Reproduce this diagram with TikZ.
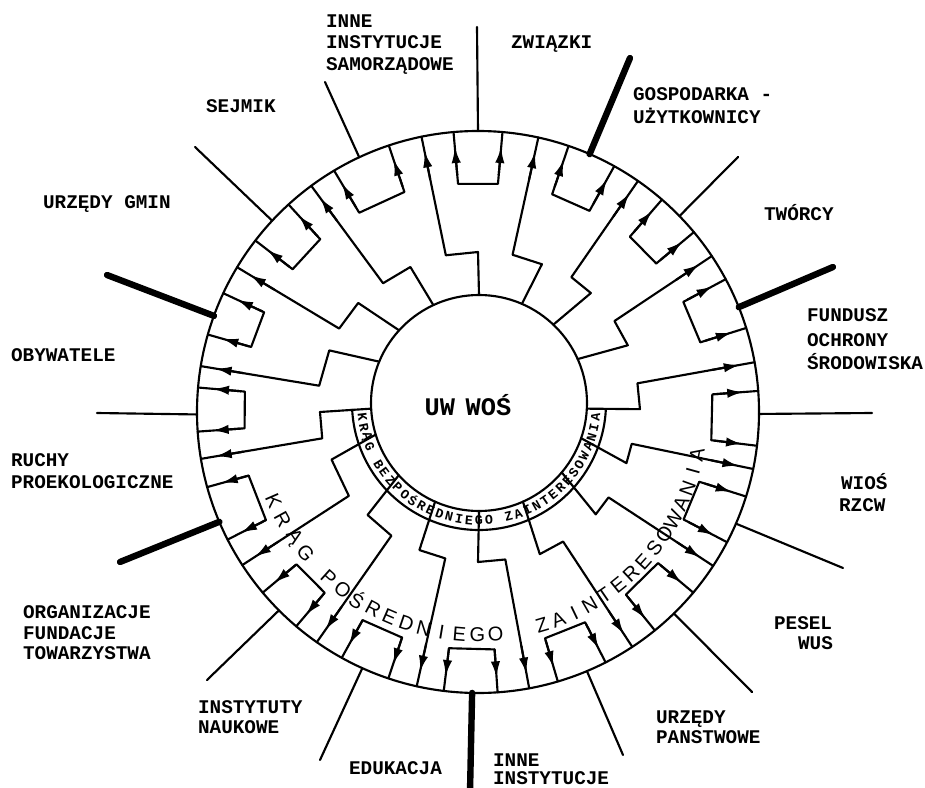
\documentclass[tikz,border=0pt]{standalone}
\usepackage{fontspec}
\setmainfont{Liberation Mono}
\newfontfamily\handfont{Liberation Sans}
\usetikzlibrary{calc,arrows.meta}
\begin{document}
\begin{tikzpicture}[x=0.75pt,y=0.75pt,line width=1.6pt,line join=round,line cap=round,
 lab/.style={anchor=base west,inner sep=0pt,font=\fontsize{14.5}{16}\selectfont\bfseries},
 tipline/.style={-{Latex[length=12pt,width=7pt]}},
 bandtxt/.style={inner sep=0pt,font=\fontsize{10}{10}\selectfont\bfseries},
 hand/.style={inner sep=0pt,font=\handfont\fontsize{15}{15}\selectfont}]
\fill[white] (0,0) rectangle (925,-788);
\useasboundingbox (0,0) rectangle (925,-788);
\coordinate (oc) at (478,-412);
\coordinate (ic) at (479,-403);
\node[circle,draw,minimum size=421.5pt,inner sep=0pt] (outer) at (oc) {};
\node[circle,draw,minimum size=162pt,inner sep=0pt] (inner) at (ic) {};
\node[font=\fontsize{19}{20}\selectfont\bfseries,inner sep=0pt] (uw) at (468,-405) {UW\hspace{8pt}WOŚ};

% spokes
\foreach \a/\x/\y/\w [count=\i] in {90/477/27/1.6, 66.6/630/58/4.8, 44.2/738/157/1.6, 21.9/833/267/4.8, -0.4/872/413/1.6, -23.4/843/568/1.6, -45.8/752/692/1.6, -67.2/623/755/1.6, -91.2/470/792/4.8, 245.7/320/760/1.6, 224.9/207/680/1.6, 203/120/562/4.8, 180.5/97/413/1.6, 160/107/275/4.8, 137.1/195/147/1.6, 115/325/82/1.6}
  \draw[line width=\w pt] ($(oc)+(\a:281)$) coordinate (s\i) -- (\x,-\y) coordinate (e\i);

% brackets
\foreach \a/\b/\r in {95/85/229, 108.5/120.8/232, 132.4/142.4/234, 155/164/236, 175/184/234, 195.5/207/238, 220/229.7/237, 241/251.4/238, 263/274/238, 286.5/297/236, 309/320/235, 332.4/342.5/232, 353.1/364.3/235, 17.4/28.2/233, 39.8/49.1/232, 61/71.2/230} {
  \draw ($(oc)+(\a:281)$) -- ($(oc)+(\a:\r)$) -- ($(oc)+(\b:\r)$) -- ($(oc)+(\b:281)$);
  \draw[tipline] ($(oc)+(\a:238)$) -- ($(oc)+(\a:266)$);
  \draw[tipline] ($(oc)+(\b:238)$) -- ($(oc)+(\b:266)$);
}

% stepped lines to the centre
\foreach \a/\r/\b/\c in {101.6/160/90/90, 126.4/160/115/115, 149/162/137.7/137.7, 170.6/161/157.5/157.5, 189.6/158/180/183, 213/154/198/197, 235/151/223/222, 257.4/150/247/246, 280.5/150/270/270, 303.3/155/293.5/294, 326.8/156/319/320, 348.3/157/341/341, 10.2/162/1/357, 33.7/164/24/24, 55.3/164/46.5/46.5, 77.6/161/66.6/66.6} {
  \draw ($(oc)+(\a:281)$) -- ($(oc)+(\a:\r)$) -- ($(oc)+(\b:\r)$) -- ($(ic)+(\c:108)$);
  \draw[tipline] ($(oc)+(\a:238)$) -- ($(oc)+(\a:266)$);
}

% inner band
\draw ($(ic)+(183:127)$) arc[start angle=183,end angle=357,radius=127];
\foreach \ch [count=\i from 0] in {K,R,Ą,G,{},B,E,Z,P,O,Ś,R,E,D,N,I,E,G,O,{},Z,A,I,N,T,E,R,E,S,O,W,A,N,I,A} {
  \pgfmathsetmacro\ang{187+4.88*\i}
  \pgfmathsetmacro\rot{\ang+90}
  \node[bandtxt,rotate=\rot] (b\i) at ($(ic)+(\ang:117.5)$) {\ch};
}

% large hand lettering
\foreach \ch [count=\i from 0] in {K,R,Ą,G} {
  \pgfmathsetmacro\ang{203.5+5.3*\i}
  \pgfmathsetmacro\rot{\ang+90}
  \node[hand,rotate=\rot] (k\i) at ($(oc)+(\ang:223)$) {\ch};
}
\foreach \ch [count=\i from 0] in {P,O,Ś,R,E,D,N,I,E,G,O} {
  \pgfmathsetmacro\ang{228+4.65*\i}
  \pgfmathsetmacro\rot{\ang+90}
  \node[hand,rotate=\rot] (p\i) at ($(oc)+(\ang:223)$) {\ch};
}
\foreach \ch [count=\i from 0] in {Z,A,I,N,T,E,R,E,S,O,W,A,N,I,A} {
  \pgfmathsetmacro\ang{286.7+4.45*\i}
  \pgfmathsetmacro\rot{\ang+90}
  \node[hand,rotate=\rot] (z\i) at ($(oc)+(\ang:223)$) {\ch};
}

% labels
\node[lab] (t1) at (325,-28) {INNE};
\node[lab] (t2) at (325,-49) {INSTYTUCJE};
\node[lab] (t3) at (325,-71) {SAMORZĄDOWE};
\node[lab] (t4) at (510,-49) {ZWIĄZKI};
\node[lab] (t5) at (205,-113) {SEJMIK};
\node[lab] (t6) at (632,-101) {GOSPODARKA -};
\node[lab] (t7) at (632,-124) {UŻYTKOWNICY};
\node[lab] (t8) at (42,-209) {URZĘDY GMIN};
\node[lab] (t9) at (763,-221) {TWÓRCY};
\node[lab] (t10) at (806,-321) {FUNDUSZ};
\node[lab] (t11) at (806,-346) {OCHRONY};
\node[lab] (t12) at (806,-369) {ŚRODOWISKA};
\node[lab] (t13) at (10,-361) {OBYWATELE};
\node[lab] (t14) at (10,-466) {RUCHY};
\node[lab] (t15) at (10,-488) {PROEKOLOGICZNE};
\node[lab] (t16) at (840,-489) {WIOŚ};
\node[lab] (t17) at (838,-511) {RZCW};
\node[lab] (t18) at (22,-618) {ORGANIZACJE};
\node[lab] (t19) at (22,-639) {FUNDACJE};
\node[lab] (t20) at (22,-659) {TOWARZYSTWA};
\node[lab] (t21) at (773,-629) {PESEL};
\node[lab] (t22) at (797,-649) {WUS};
\node[lab] (t23) at (197,-713) {INSTYTUTY};
\node[lab] (t24) at (197,-733) {NAUKOWE};
\node[lab] (t25) at (655,-723) {URZĘDY};
\node[lab] (t26) at (655,-743) {PANSTWOWE};
\node[lab] (t27) at (348,-774) {EDUKACJA};
\node[lab] (t28) at (492,-766) {INNE};
\node[lab] (t29) at (492,-784) {INSTYTUCJE};
\end{tikzpicture}
\end{document}
